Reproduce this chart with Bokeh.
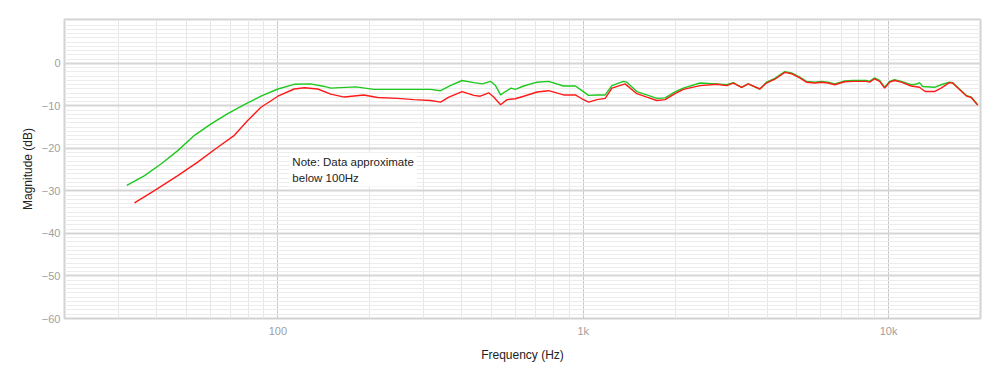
from bokeh.plotting import figure
from bokeh.models import Range1d, FixedTicker, Label
from bokeh.embed import file_html
from bokeh.resources import INLINE

# ---- data ----
green_freq = [32, 36.6, 41.5, 47, 53.3, 60.4, 68.5, 77.6, 88, 100,
              113, 128, 142, 149, 180, 206, 246, 316, 341, 367,
              401, 438, 467, 497, 516, 536, 556, 580, 599, 638,
              706, 770, 862, 942, 990, 1041, 1110, 1180, 1241, 1354,
              1389, 1498, 1615, 1742, 1854, 1997, 2127, 2411, 2733, 2949,
              3100, 3301, 3470, 3787, 3981, 4242, 4572, 4808, 5117, 5383,
              5728, 6025, 6334, 6663, 7180, 7645, 8453, 8670, 9000, 9350,
              9710, 10077, 10462, 11003, 11858, 12300, 12620, 12940, 14130, 14860,
              15820, 16200, 17070, 17950, 18640, 19580]
green_db = [-28.7, -26.4, -23.6, -20.5, -16.9, -14.2, -11.8, -9.7, -7.7, -6.0,
            -4.9, -4.8, -5.4, -5.8, -5.5, -6.1, -6.1, -6.1, -6.4, -5.2,
            -4.0, -4.5, -4.8, -4.2, -5.2, -7.4, -6.6, -5.8, -6.1, -5.3,
            -4.4, -4.2, -5.3, -5.3, -6.4, -7.5, -7.4, -7.4, -5.2, -4.2,
            -4.4, -6.6, -7.4, -8.2, -8.1, -6.7, -5.8, -4.6, -4.8, -5.0,
            -4.5, -5.6, -4.8, -6.0, -4.4, -3.5, -1.9, -2.2, -3.2, -4.2,
            -4.4, -4.2, -4.4, -4.8, -4.1, -4.0, -4.0, -4.2, -3.4, -4.0,
            -5.6, -4.2, -3.8, -4.2, -5.0, -4.9, -4.5, -5.4, -5.6, -5.0,
            -4.4, -4.5, -6.0, -7.5, -7.9, -9.7]

red_freq = [33.9, 39.4, 47, 54.6, 63.5, 72, 79.6, 88, 100, 113,
            122, 135, 149, 165, 191, 212, 246, 279, 316, 341,
            363, 401, 438, 460, 490, 509, 536, 563, 599, 638,
            706, 770, 862, 942, 990, 1041, 1110, 1180, 1241, 1371,
            1498, 1615, 1742, 1854, 1997, 2127, 2411, 2733, 2949, 3100,
            3301, 3470, 3787, 3981, 4242, 4572, 4808, 5117, 5383, 5728,
            6025, 6334, 6663, 7180, 7645, 8453, 8670, 9000, 9350, 9710,
            10077, 10462, 11003, 11858, 12620, 13170, 14130, 14860, 15820, 16200,
            17070, 17950, 18640, 19580]
red_db = [-32.8, -29.9, -26.4, -23.2, -19.7, -16.9, -13.4, -10.3, -7.7, -6.0,
          -5.7, -6.0, -7.2, -7.9, -7.4, -8.0, -8.2, -8.5, -8.7, -9.1,
          -7.9, -6.6, -7.5, -7.7, -6.9, -7.9, -9.7, -8.5, -8.3, -7.7,
          -6.7, -6.4, -7.4, -7.4, -8.3, -9.1, -8.5, -8.2, -5.8, -4.8,
          -7.1, -7.9, -8.7, -8.5, -7.1, -6.1, -5.2, -4.9, -5.2, -4.6,
          -5.6, -4.8, -6.0, -4.6, -3.7, -2.1, -2.4, -3.4, -4.4, -4.6,
          -4.4, -4.6, -5.0, -4.3, -4.2, -4.2, -4.4, -3.6, -4.2, -5.8,
          -4.4, -4.0, -4.4, -5.3, -5.6, -6.6, -6.6, -5.8, -4.5, -4.6,
          -6.1, -7.6, -8.0, -9.8]

x_major = [100, 1000, 10000]
x_major_labels = ["100", "1k", "10k"]
x_minor = [20, 30, 40, 50, 60, 70, 80, 90,
           200, 300, 400, 500, 600, 700, 800, 900,
           2000, 3000, 4000, 5000, 6000, 7000, 8000, 9000, 20000]
y_major = [-60, -50, -40, -30, -20, -10, 0]
y_minor = list(range(-60, 11))

note_text = "Note: Data approximate\nbelow 100Hz"

FONT = "Liberation Sans"

p = figure(width=1000, height=388, x_axis_type="log",
           x_range=Range1d(20, 20000), y_range=Range1d(-60, 10.35),
           output_backend="svg", toolbar_location=None,
           min_border_left=64, min_border_right=20,
           min_border_top=19, min_border_bottom=70)

p.outline_line_color = "#d2d2d2"
p.outline_line_width = 2
p.background_fill_color = "white"
p.border_fill_color = "white"

p.xaxis.ticker = FixedTicker(ticks=x_major, minor_ticks=x_minor)
p.yaxis.ticker = FixedTicker(ticks=y_major, minor_ticks=y_minor)
p.xaxis.major_label_overrides = {float(v): s for v, s in zip(x_major, x_major_labels)}

for ax in (p.xaxis[0], p.yaxis[0]):
    ax.axis_line_color = None
    ax.major_tick_line_color = None
    ax.minor_tick_line_color = None
    ax.major_tick_out = 0
    ax.major_tick_in = 0
    ax.minor_tick_out = 0
    ax.minor_tick_in = 0
    ax.major_label_text_font = FONT
    ax.major_label_text_font_size = "11px"
    ax.major_label_text_color = "#a0a0a0"
    ax.axis_label_text_font = FONT
    ax.axis_label_text_font_size = "12px"
    ax.axis_label_text_font_style = "normal"
    ax.axis_label_text_color = "#222222"

p.xaxis.axis_label = "Frequency (Hz)"
p.yaxis.axis_label = "Magnitude (dB)"
p.xaxis.major_label_standoff = 6
p.xaxis.axis_label_standoff = 8
p.yaxis.major_label_standoff = 4
p.yaxis.axis_label_standoff = 4

p.xgrid.grid_line_color = "#c8c8c8"
p.xgrid.grid_line_width = 1
p.xgrid.minor_grid_line_color = "#e6e6e6"
p.xgrid.minor_grid_line_width = 1
p.ygrid.grid_line_color = "#d6d6d6"
p.ygrid.grid_line_width = 2
p.ygrid.minor_grid_line_color = "#ececec"
p.ygrid.minor_grid_line_width = 1

p.line(green_freq, green_db, line_color="#1ec81e", line_width=1.4)
p.line(red_freq, red_db, line_color="#ff1a1a", line_width=1.4)

note = Label(x=109, y=-21.0, text=note_text,
             text_font=FONT, text_font_size="11.5px", text_color="#222222",
             text_baseline="top", text_align="left", text_line_height=1.32,
             background_fill_color="white", padding=3)
p.add_layout(note)

open("out.html", "w").write(file_html(p, INLINE))
